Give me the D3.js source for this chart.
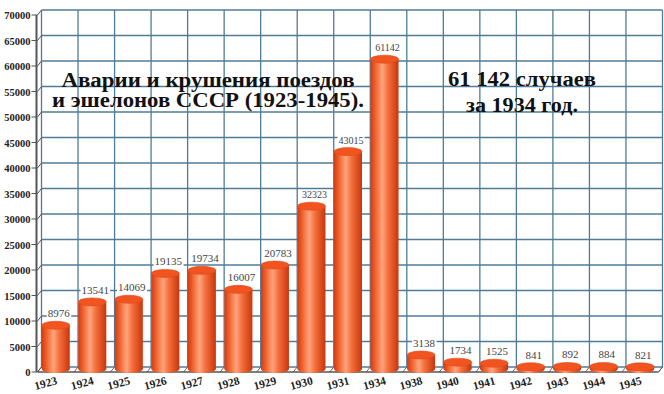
<html lang="ru">
<head>
<meta charset="UTF-8">
<title>Аварии и крушения поездов</title>
<script src="https://d3js.org/d3.v7.min.js"></script>
<style>
  body { margin: 0; background: #fff; }
</style>
</head>
<body>
<svg width="664" height="394" font-family="'Liberation Serif', 'Times New Roman', Times, 'DejaVu Serif', serif"></svg>
<script>
    // data
    const years = ["1923", "1924", "1925", "1926", "1927", "1928", "1929", "1930", "1931",
                   "1934", "1938", "1940", "1941", "1942", "1943", "1944", "1945"];
    const counts = [8976, 13541, 14069, 19135, 19734, 16007, 20783, 32323, 43015,
                    61142, 3138, 1734, 1525, 841, 892, 884, 821];
    const yTicks = d3.range(0, 70001, 5000);
    const titleLines = ["Аварии и крушения поездов", "и эшелонов СССР (1923-1945)."];
    const noteLines = ["61 142 случаев", "за 1934 год."];

    const svg = d3.select("svg");
    const DX = 4, DY = -5; // depth of the back wall

    const x = d3.scaleBand().domain(years).range([37.5, 658.5]).paddingInner(0);
    const y = d3.scaleLinear().domain([0, 70000]).range([372, 15]);
    const barW = 28;
    const ry = 4;

    // gradient for the cylinders
    const defs = svg.append("defs");
    const grad = defs.append("linearGradient").attr("id", "cyl").attr("x1", "0").attr("x2", "1");
    grad.append("stop").attr("offset", "0%").attr("stop-color", "#d43a10");
    grad.append("stop").attr("offset", "18%").attr("stop-color", "#f0642e");
    grad.append("stop").attr("offset", "42%").attr("stop-color", "#ffa47e");
    grad.append("stop").attr("offset", "62%").attr("stop-color", "#f4703c");
    grad.append("stop").attr("offset", "100%").attr("stop-color", "#c9350c");

    const gridColor = "#4f7b99";
    const x0 = x.range()[0], x1 = x.range()[1];
    const g = svg.append("g");

    // back wall horizontal grid
    g.selectAll(".hgrid").data(yTicks).enter().append("line")
        .attr("x1", x0 + DX).attr("x2", x1 + DX)
        .attr("y1", d => y(d) + DY).attr("y2", d => y(d) + DY)
        .attr("stroke", gridColor).attr("stroke-width", 1.3);

    // back wall vertical grid (category borders)
    const borders = years.map(d => x(d)).concat([x1]);
    g.selectAll(".vgrid").data(borders).enter().append("line")
        .attr("x1", d => d + DX).attr("x2", d => d + DX)
        .attr("y1", y(0) + DY).attr("y2", y(70000) + DY)
        .attr("stroke", gridColor).attr("stroke-width", 1.3);

    // floor: diagonal ticks and front edge
    g.selectAll(".floor").data(borders).enter().append("line")
        .attr("x1", d => d).attr("y1", y(0))
        .attr("x2", d => d + DX).attr("y2", y(0) + DY)
        .attr("stroke", "#666").attr("stroke-width", 1);
    g.append("line").attr("x1", x0).attr("x2", x1).attr("y1", y(0)).attr("y2", y(0))
        .attr("stroke", "#555").attr("stroke-width", 1.5);
    g.append("line").attr("x1", x1).attr("x2", x1 + DX).attr("y1", y(0)).attr("y2", y(0) + DY)
        .attr("stroke", "#555").attr("stroke-width", 1);

    // y axis (front edge) with ticks
    g.append("line").attr("x1", x0 - 1).attr("x2", x0 - 1).attr("y1", y(0)).attr("y2", y(70000))
        .attr("stroke", "#555").attr("stroke-width", 2);
    g.selectAll(".ytick").data(yTicks).enter().append("path")
        .attr("d", d => `M${x0 - 6},${y(d)}L${x0},${y(d)}L${x0 + DX},${y(d) + DY}`)
        .attr("fill", "none").attr("stroke", "#555").attr("stroke-width", 1);
    g.selectAll(".ylab").data(yTicks).enter().append("text")
        .attr("x", x0 - 7).attr("y", d => y(d) + 4)
        .attr("text-anchor", "end").attr("font-size", 10.5).attr("font-weight", "bold")
        .attr("fill", "#222").text(d => d);

    // cylinders
    const bars = g.selectAll(".bar").data(years).enter().append("g");
    bars.each(function(d, i) {
        const cx = x(d) + x.bandwidth() / 2;
        const top = y(counts[i]) - 1;
        const base = y(0) - 3;
        const b = d3.select(this);
        b.append("ellipse").attr("cx", cx).attr("cy", base).attr("rx", barW / 2).attr("ry", ry)
            .attr("fill", "url(#cyl)");
        b.append("rect").attr("x", cx - barW / 2).attr("y", top).attr("width", barW)
            .attr("height", Math.max(0, base - top)).attr("fill", "url(#cyl)");
        b.append("ellipse").attr("cx", cx).attr("cy", top).attr("rx", barW / 2).attr("ry", ry)
            .attr("fill", "#f1541f").attr("stroke", "#e0481a").attr("stroke-width", 0.6);
    });

    // value labels with white backing
    const labels = g.selectAll(".vlab").data(years).enter().append("g");
    labels.each(function(d, i) {
        const cx = x(d) + x.bandwidth() / 2 + 3;
        const ty = y(counts[i]) - ry - 5;
        const lg = d3.select(this);
        const r = lg.append("rect").attr("fill", "#fff");
        const t = lg.append("text").attr("x", cx).attr("y", ty)
            .attr("text-anchor", "middle").attr("font-size", counts[i] > 30000 ? 10 : 11)
            .attr("fill", "#444").text(counts[i]);
        const bb = t.node().getBBox();
        r.attr("x", bb.x - 1).attr("y", bb.y + 1).attr("width", bb.width + 2).attr("height", bb.height - 2);
    });

    // x labels, tilted
    g.selectAll(".xlab").data(years).enter().append("text")
        .attr("transform", d => `translate(${x(d) + x.bandwidth() / 2 + 2},${y(0) + 12}) rotate(-15)`)
        .attr("text-anchor", "end").attr("font-size", 11.5).attr("font-weight", "bold")
        .attr("fill", "#222").text(d => d);

    // title and note
    const titleY = [87, 107];
    const titleW = [293, 312];
    svg.selectAll(".title").data(titleLines).enter().append("text")
        .attr("x", 208).attr("y", (d, i) => titleY[i])
        .attr("text-anchor", "middle").attr("font-size", 20).attr("font-weight", "bold")
        .attr("textLength", (d, i) => titleW[i]).attr("lengthAdjust", "spacingAndGlyphs")
        .attr("fill", "#111").text(d => d);

    const noteY = [86, 112];
    const noteW = [148, 112];
    svg.selectAll(".note").data(noteLines).enter().append("text")
        .attr("x", 522).attr("y", (d, i) => noteY[i])
        .attr("text-anchor", "middle").attr("font-size", 21).attr("font-weight", "bold")
        .attr("textLength", (d, i) => noteW[i]).attr("lengthAdjust", "spacingAndGlyphs")
        .attr("fill", "#111").text(d => d);
</script>
</body>
</html>
